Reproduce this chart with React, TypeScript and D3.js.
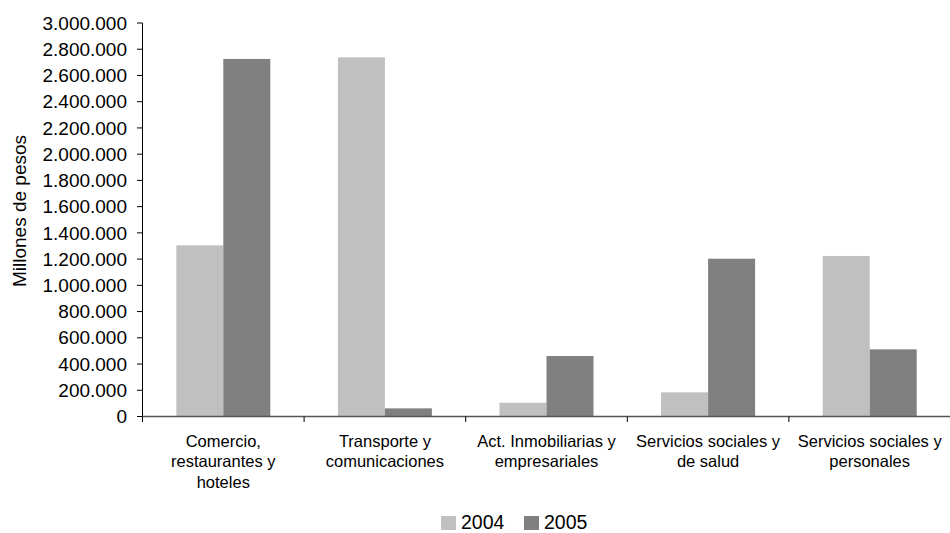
import React from "react";
import * as d3 from "d3";

const categories: string[][] = [
  ["Comercio,", "restaurantes y", "hoteles"],
  ["Transporte y", "comunicaciones"],
  ["Act. Inmobiliarias y", "empresariales"],
  ["Servicios sociales y", "de salud"],
  ["Servicios sociales y", "personales"],
];
const seriesNames = ["2004", "2005"];
const values2004 = [1305000, 2738000, 105000, 184000, 1224000];
const values2005 = [2726000, 62000, 461000, 1203000, 512000];
const yTicks = d3.range(0, 3000001, 200000);
const colors = ["#C0C0C0", "#808080"];

const fmt = (v: number) =>
  v === 0 ? "0" : d3.format(",")(v).replace(/,/g, ".");

export default function App() {
  const W = 950, H = 533;
  const left = 142.5, right = 950.5, top = 23, bottom = 416.5;
  const x = d3.scaleBand<number>().domain(d3.range(categories.length)).range([left, right]).paddingInner(0).paddingOuter(0);
  const y = d3.scaleLinear().domain([0, 3000000]).range([bottom, top]);
  const bw = x.bandwidth();
  const barW = 47;
  const gap = (bw - 2 * barW) / 2;
  const series = [values2004, values2005];
  const font = "'Liberation Sans', Arial, sans-serif";
  return (
    <svg width={W} height={H} style={{ position: "absolute", left: 0, top: 0 }} fontFamily={font}>
      <rect x={0} y={0} width={W} height={H} fill="#fff" />
      {series.map((vals, si) =>
        vals.map((v, i) => (
          <rect
            key={`${si}-${i}`}
            x={(x(i) as number) + gap + si * barW}
            y={y(v)}
            width={barW}
            height={bottom - y(v)}
            fill={colors[si]}
          />
        ))
      )}
      {/* y axis */}
      <line x1={left} x2={left} y1={top} y2={bottom} stroke="#000" strokeWidth={1} />
      {yTicks.map((t) => (
        <g key={t}>
          <line x1={left - 5.5} x2={left} y1={y(t)} y2={y(t)} stroke="#000" />
          <text x={127} y={y(t)} dy="0.35em" textAnchor="end" fontSize={19} fill="#000">
            {fmt(t)}
          </text>
        </g>
      ))}
      {/* x axis */}
      <line x1={left} x2={W} y1={bottom} y2={bottom} stroke="#555" strokeWidth={1.5} />
      {d3.range(categories.length + 1).map((i) => {
        const xx = i < categories.length ? (x(i) as number) : right;
        return <line key={i} x1={xx} x2={xx} y1={bottom} y2={bottom + 5.5} stroke="#000" />;
      })}
      {categories.map((lines, i) => (
        <text key={i} textAnchor="middle" fontSize={16.5} fill="#000">
          {lines.map((l, j) => (
            <tspan key={j} x={(x(i) as number) + bw / 2} y={447 + j * 20.3}>
              {l}
            </tspan>
          ))}
        </text>
      ))}
      {/* y title */}
      <text
        transform={`translate(26,211) rotate(-90)`}
        textAnchor="middle"
        fontSize={19}
        fill="#000"
      >
        Millones de pesos
      </text>
      {/* legend */}
      {seriesNames.map((n, i) => (
        <g key={n} transform={`translate(${441 + i * 83},0)`}>
          <rect x={0} y={516} width={15} height={14} fill={colors[i]} />
          <text x={20} y={529} fontSize={19.5} fill="#000">
            {n}
          </text>
        </g>
      ))}
    </svg>
  );
}
